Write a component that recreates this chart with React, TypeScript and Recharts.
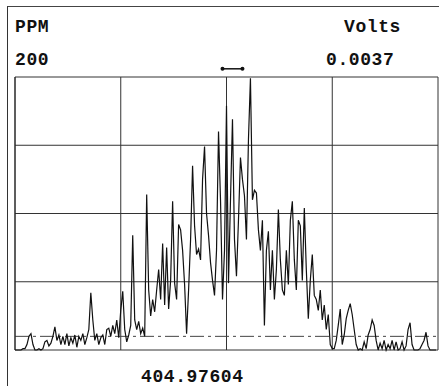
import { LineChart, Line, XAxis, YAxis, CartesianGrid, ReferenceLine, ReferenceDot } from "recharts";

// Spectrum trace, one reading every step across the scan (PPM)
const readings = [
  0, 0, 0, 0, 1, 1, 4, 10, 12, 4, 0, 0, 1, 0, 1, 6, 7, 3, 5, 10,
  17, 7, 11, 4, 10, 4, 12, 3, 9, 5, 11, 2, 10, 7, 12, 4, 9, 15, 42, 22,
  7, 12, 4, 9, 11, 4, 15, 16, 10, 18, 12, 22, 9, 29, 43, 15, 6, 11, 18, 84,
  22, 15, 21, 12, 16, 10, 114, 44, 25, 37, 28, 44, 59, 37, 78, 33, 75, 30, 51, 109,
  49, 37, 92, 88, 73, 48, 12, 44, 81, 135, 91, 70, 74, 66, 125, 149, 100, 84, 64, 51,
  40, 73, 160, 110, 37, 73, 179, 49, 110, 169, 81, 54, 95, 141, 125, 113, 81, 154, 199, 110,
  117, 115, 88, 73, 95, 18, 73, 87, 44, 73, 37, 59, 103, 66, 44, 40, 73, 48, 95, 109,
  66, 44, 95, 91, 51, 104, 59, 23, 51, 70, 40, 37, 29, 44, 22, 33, 15, 26, 4, 1,
  1, 7, 18, 30, 4, 11, 23, 29, 34, 26, 15, 4, 0, 1, 0, 6, 1, 11, 15, 22,
  18, 7, 0, 5, 1, 7, 0, 4, 1, 7, 0, 6, 0, 1, 6, 0, 3, 15, 20, 4,
  0, 0, 0, 1, 4, 7, 13, 3, 0, 0, 0, 0,
];

const gridX = [0, 53, 106, 159, 212];
const gridY = [0, 50, 100, 150, 200];

const data = readings.map((ppm, i) => ({ step: i, ppm }));

const textStyle = {
  position: "absolute" as const,
  fontFamily: "'Liberation Mono', 'DejaVu Sans Mono', monospace",
  fontWeight: 700,
  fontSize: 18,
  letterSpacing: 0.6,
  lineHeight: "16px",
  whiteSpace: "nowrap" as const,
  color: "#111",
};

export default function App() {
  return (
    <div style={{ position: "absolute", left: 0, top: 0, width: 439, height: 386, background: "#fff", overflow: "hidden" }}>
      {/* outer frame */}
      <div style={{ position: "absolute", left: 7, top: 6, width: 432, height: 380, borderLeft: "1px solid #333", borderTop: "1px solid #444" }} />
      <div style={{ ...textStyle, left: 15, top: 19 }}>PPM</div>
      <div style={{ ...textStyle, left: 15, top: 52 }}>200</div>
      <div style={{ ...textStyle, left: 344, top: 19 }}>Volts</div>
      <div style={{ ...textStyle, left: 326, top: 52 }}>0.0037</div>
      <div style={{ ...textStyle, left: 141, top: 369 }}>404.97604</div>
      <LineChart
        width={439}
        height={386}
        data={data}
        margin={{ top: 77, right: 1, left: 15, bottom: 36 }}
        style={{ position: "absolute", left: 0, top: 0 }}
      >
        <CartesianGrid stroke="#333" strokeWidth={1} horizontal vertical />
        <XAxis dataKey="step" type="number" domain={[0, 212]} ticks={gridX} hide />
        <YAxis type="number" domain={[0, 200]} ticks={gridY} hide />
        <ReferenceLine y={10} stroke="#444" strokeDasharray="14 4 3 4" />
        <ReferenceLine x={0} stroke="#222" />
        <ReferenceLine
          segment={[{ x: 104, y: 206 }, { x: 114, y: 206 }]}
          stroke="#111"
          strokeWidth={1.5}
          ifOverflow="visible"
        />
        <ReferenceDot x={104} y={206} r={2} fill="#111" stroke="none" ifOverflow="visible" />
        <ReferenceDot x={114} y={206} r={2} fill="#111" stroke="none" ifOverflow="visible" />
        <Line
          type="linear"
          dataKey="ppm"
          stroke="#111"
          strokeWidth={1.2}
          dot={false}
          isAnimationActive={false}
        />
      </LineChart>
    </div>
  );
}
